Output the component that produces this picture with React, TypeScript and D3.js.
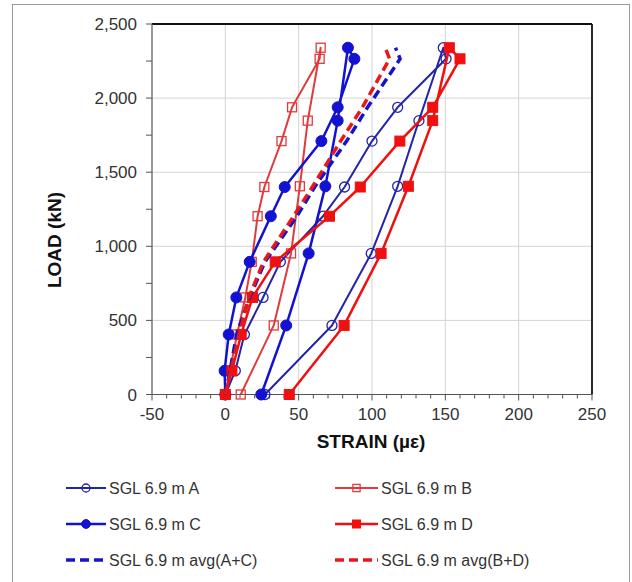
import React from "react";
import * as d3 from "d3";

// Load steps (kN): loading to peak, then unloading
const loads = [0, 160, 405, 655, 895, 1203, 1400, 1710, 1938, 2265, 2340, 1848, 1405, 952, 466, 0];
const loadingSteps = loads.slice(0, 11);

// Strain readings (µε)
const strainA = [0, 6.8, 13, 25.7, 37.5, 66.6, 81.3, 100, 117.5, 150.5, 148.6, 132, 117.5, 99.5, 72.7, 27];
const strainB = [0, 3, 8, 13.6, 18, 22, 26.6, 38.3, 45.5, 64.3, 65, 56.2, 50.8, 44.8, 33, 10.5];
const strainC = [0, -0.5, 2.3, 7.5, 16.6, 31, 40.5, 65.5, 76.6, 88, 83.6, 76.6, 68.2, 56.8, 41.5, 24.5];
const strainD = [0, 4.5, 10.8, 18.5, 34, 71, 92, 119, 141.4, 160, 152.7, 141.4, 124.8, 106.2, 81, 43.6];
const avgAC = [0, 3.2, 7.7, 16.6, 27, 48.8, 60.9, 82.7, 97, 119.2, 116];
const avgBD = [0, 3.8, 9.4, 16, 26, 46.5, 59.3, 78.6, 93.5, 112, 109];

const xTicks = [-50, 0, 50, 100, 150, 200, 250];
const yTicks = [0, 500, 1000, 1500, 2000, 2500];

const seriesNames = [
  "SGL 6.9 m A",
  "SGL 6.9 m B",
  "SGL 6.9 m C",
  "SGL 6.9 m D",
  "SGL 6.9 m avg(A+C)",
  "SGL 6.9 m avg(B+D)",
];

const FONT = "'Liberation Sans', Arial, sans-serif";

type Marker = "openCircle" | "filledCircle" | "openSquare" | "filledSquare" | "none";

interface Series {
  name: string;
  xs: number[];
  ys: number[];
  color: string;
  width: number;
  dash?: string;
  marker: Marker;
}

const series: Series[] = [
  { name: seriesNames[0], xs: strainA, ys: loads, color: "#2424a8", width: 2, marker: "openCircle" },
  { name: seriesNames[1], xs: strainB, ys: loads, color: "#e23a3a", width: 2, marker: "openSquare" },
  { name: seriesNames[2], xs: strainC, ys: loads, color: "#1212d0", width: 2.5, marker: "filledCircle" },
  { name: seriesNames[3], xs: strainD, ys: loads, color: "#f01010", width: 2.5, marker: "filledSquare" },
  { name: seriesNames[4], xs: avgAC, ys: loadingSteps, color: "#1515c8", width: 3.5, dash: "9,5", marker: "none" },
  { name: seriesNames[5], xs: avgBD, ys: loadingSteps, color: "#e81818", width: 3.5, dash: "9,5", marker: "none" },
];

function MarkerShape({ type, x, y, color, legend }: { type: Marker; x: number; y: number; color: string; legend?: boolean }) {
  const k = legend ? 0.8 : 1;
  switch (type) {
    case "openCircle":
      return <circle cx={x} cy={y} r={5 * k} fill="none" stroke={color} strokeWidth={1.3} />;
    case "filledCircle":
      return <circle cx={x} cy={y} r={5.5 * k} fill={color} stroke={color} strokeWidth={1} />;
    case "openSquare":
      return <rect x={x - 4.5 * k} y={y - 4.5 * k} width={9 * k} height={9 * k} fill="none" stroke={color} strokeWidth={1.3} />;
    case "filledSquare":
      return <rect x={x - 5 * k} y={y - 5 * k} width={10 * k} height={10 * k} fill={color} stroke={color} strokeWidth={1} />;
    default:
      return null;
  }
}

export default function App() {
  const W = 632;
  const H = 582;
  const left = 152;
  const right = 592;
  const top = 24;
  const bottom = 394.5;

  const x = d3.scaleLinear().domain([-50, 250]).range([left, right]);
  const y = d3.scaleLinear().domain([0, 2500]).range([bottom, top]);

  const xMinor = d3.range(-50, 251, 10);
  const yMinor = d3.range(0, 2501, 250);

  const legendRows = [488, 524, 560];
  const legendCols = [
    { x1: 66, x2: 106, tx: 109 },
    { x1: 335, x2: 378, tx: 381 },
  ];

  return (
    <svg width={W} height={H} style={{ position: "absolute", left: 0, top: 0, background: "#fff" }}>
      <rect x={0} y={0} width={W} height={H} fill="#fff" />
      <rect x={12.5} y={4.5} width={617} height={640} fill="none" stroke="#9a9a9a" strokeWidth={1} />

      {/* gridlines */}
      {xTicks.slice(1, -1).map((t) => (
        <line key={"gx" + t} x1={x(t)} x2={x(t)} y1={top} y2={bottom} stroke="#d4d4d4" strokeWidth={1} />
      ))}
      {yTicks.slice(1, -1).map((t) => (
        <line key={"gy" + t} x1={left} x2={right} y1={y(t)} y2={y(t)} stroke="#d4d4d4" strokeWidth={1} />
      ))}

      {/* ticks */}
      {xMinor.map((t) => (
        <line key={"xm" + t} x1={x(t)} x2={x(t)} y1={bottom} y2={bottom + (t % 50 === 0 ? 6 : 4)} stroke="#555" strokeWidth={1} />
      ))}
      {yMinor.map((t) => (
        <line key={"ym" + t} x1={left - 6} x2={left} y1={y(t)} y2={y(t)} stroke="#555" strokeWidth={1} />
      ))}

      {/* plot frame */}
      <line x1={left} x2={right} y1={top} y2={top} stroke="#111" strokeWidth={1.8} />
      <line x1={right} x2={right} y1={top} y2={bottom} stroke="#111" strokeWidth={1.8} />
      <line x1={left} x2={left} y1={top} y2={bottom} stroke="#555" strokeWidth={1.2} />
      <line x1={left} x2={right} y1={bottom} y2={bottom} stroke="#555" strokeWidth={1.2} />

      {/* tick labels */}
      {xTicks.map((t) => (
        <text key={"xl" + t} x={x(t)} y={419.5} textAnchor="middle" fontFamily={FONT} fontSize={17} fill="#333">
          {t}
        </text>
      ))}
      {yTicks.map((t) => (
        <text key={"yl" + t} x={137} y={y(t) + 6} textAnchor="end" fontFamily={FONT} fontSize={17} fill="#333">
          {d3.format(",")(t)}
        </text>
      ))}

      {/* axis titles */}
      <text x={371} y={448} textAnchor="middle" fontFamily={FONT} fontSize={19} fontWeight="bold" fill="#111">
        STRAIN (µε)
      </text>
      <text
        transform={`translate(61,240) rotate(-90)`}
        textAnchor="middle"
        fontFamily={FONT}
        fontSize={19}
        fontWeight="bold"
        fill="#111"
      >
        LOAD (kN)
      </text>

      {/* series */}
      {series.map((s, si) => {
        const pts = s.xs.map((v, i) => [x(v), y(s.ys[i])] as [number, number]);
        const path = d3.line()(pts) || "";
        return (
          <g key={"s" + si}>
            <path d={path} fill="none" stroke={s.color} strokeWidth={s.width} strokeDasharray={s.dash} strokeLinejoin="round" />
            {pts.map((p, i) => (
              <MarkerShape key={i} type={s.marker} x={p[0]} y={p[1]} color={s.color} />
            ))}
          </g>
        );
      })}

      {/* legend */}
      {series.map((s, i) => {
        const col = legendCols[i % 2];
        const row = legendRows[Math.floor(i / 2)];
        const mx = (col.x1 + col.x2) / 2;
        return (
          <g key={"lg" + i}>
            <line x1={col.x1} x2={col.x2} y1={row} y2={row} stroke={s.color} strokeWidth={s.dash ? 3.5 : s.width} strokeDasharray={s.dash ? "9,5" : undefined} />
            <MarkerShape type={s.marker} x={mx} y={row} color={s.color} legend />
            <text x={col.tx} y={row + 6} fontFamily={FONT} fontSize={16} fill="#333">
              {s.name}
            </text>
          </g>
        );
      })}
    </svg>
  );
}
